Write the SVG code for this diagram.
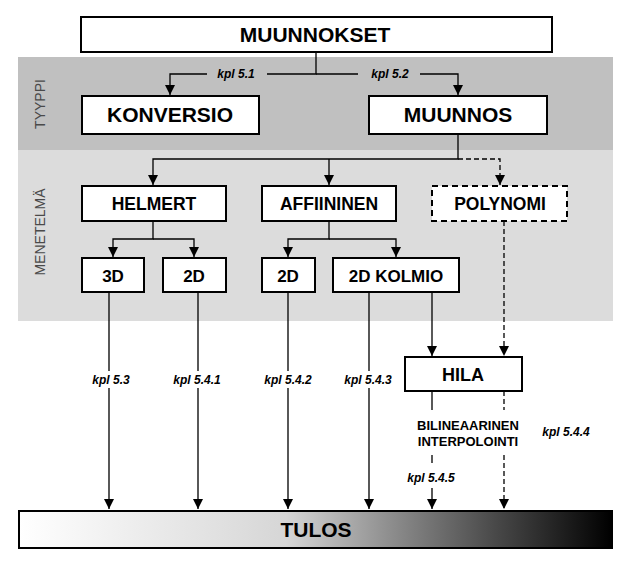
<svg xmlns="http://www.w3.org/2000/svg" width="625" height="562" viewBox="0 0 625 562">
<style>
.box{fill:#fff;stroke:#000;stroke-width:2}
.dbox{fill:#fff;stroke:#000;stroke-width:2;stroke-dasharray:6,4}
.t{font-family:"Liberation Sans",Arial,sans-serif;font-weight:bold;text-anchor:middle;fill:#000}
.k{font-family:"Liberation Sans",Arial,sans-serif;font-weight:bold;font-style:italic;font-size:12px;text-anchor:middle;fill:#000}
.side{font-family:"Liberation Sans",Arial,sans-serif;font-size:14px;text-anchor:middle;fill:#4a4a4a}
.ln{fill:none;stroke:#000;stroke-width:1.3}
.dl{fill:none;stroke:#000;stroke-width:1.3;stroke-dasharray:5,3}
</style>
<defs>
<marker id="ah" viewBox="0 0 10 10" refX="10" refY="5" markerWidth="10" markerHeight="10" markerUnits="userSpaceOnUse" orient="auto">
<path d="M0,0 L10,5 L0,10 Z" fill="#000"/>
</marker>
<linearGradient id="g" x1="0" y1="0" x2="1" y2="0">
<stop offset="0" stop-color="#ffffff"/>
<stop offset="0.45" stop-color="#d6d6d6"/>
<stop offset="0.62" stop-color="#909090"/>
<stop offset="0.8" stop-color="#4a4a4a"/>
<stop offset="1" stop-color="#000000"/>
</linearGradient>
</defs>
<rect width="625" height="562" fill="#fff"/>
<g id="bands">
<rect x="18" y="57" width="595" height="93" fill="#c0c0c0"/>
<rect x="18" y="150" width="595" height="171" fill="#dcdcdc"/>
<text class="side" transform="translate(45,104) rotate(-90)">TYYPPI</text>
<text class="side" transform="translate(45,232) rotate(-90)">MENETELMÄ</text>
</g>
<g id="connectors">
<path class="ln" d="M316,52 V74 H267 M207,74 H170 V95" marker-end="url(#ah)"/>
<path class="ln" d="M316,74 H358 M420,74 H458 V95" marker-end="url(#ah)"/>
<text class="k" x="236" y="78">kpl 5.1</text>
<text class="k" x="390" y="78">kpl 5.2</text>
<path class="ln" d="M458,134 V159 H153 V185" marker-end="url(#ah)"/>
<path class="ln" d="M329,159 V185" marker-end="url(#ah)"/>
<path class="dl" d="M458,159 H500 V185" marker-end="url(#ah)"/>
<path class="ln" d="M153,221 V239 H113 V257" marker-end="url(#ah)"/>
<path class="ln" d="M153,239 H194 V257" marker-end="url(#ah)"/>
<path class="ln" d="M329,221 V239 H288 V257" marker-end="url(#ah)"/>
<path class="ln" d="M329,239 H396 V257" marker-end="url(#ah)"/>
<path class="ln" d="M109,292 V371 M109,388 V509" marker-end="url(#ah)"/>
<path class="ln" d="M198,292 V371 M198,388 V509" marker-end="url(#ah)"/>
<path class="ln" d="M288,292 V371 M288,388 V509" marker-end="url(#ah)"/>
<path class="ln" d="M369,292 V371 M369,388 V509" marker-end="url(#ah)"/>
<text class="k" x="111" y="384">kpl 5.3</text>
<text class="k" x="197" y="384">kpl 5.4.1</text>
<text class="k" x="288" y="384">kpl 5.4.2</text>
<text class="k" x="368" y="384">kpl 5.4.3</text>
<path class="ln" d="M432,292 V356" marker-end="url(#ah)"/>
<path class="dl" d="M504,221 V356" marker-end="url(#ah)"/>
<path class="ln" d="M432,391 V410 M432,455 V463 M432,488 V509" marker-end="url(#ah)"/>
<path class="dl" d="M504,391 V410 M504,455 V509" marker-end="url(#ah)"/>
<text class="t" x="468" y="430" font-size="13">BILINEAARINEN</text>
<text class="t" x="468" y="446" font-size="13">INTERPOLOINTI</text>
<text class="k" x="431" y="482">kpl 5.4.5</text>
<text class="k" x="566" y="436">kpl 5.4.4</text>
</g>
<g id="MUUNNOKSET"><rect class="box" x="81" y="17" width="471" height="35"/><text class="t" x="315" y="42" font-size="21">MUUNNOKSET</text></g>
<g id="KONVERSIO"><rect class="box" x="82" y="96" width="177" height="38"/><text class="t" x="170" y="122" font-size="21">KONVERSIO</text></g>
<g id="MUUNNOS"><rect class="box" x="369" y="96" width="178" height="38"/><text class="t" x="458" y="122" font-size="21">MUUNNOS</text></g>
<g id="HELMERT"><rect class="box" x="82" y="186" width="144" height="35"/><text class="t" x="154" y="210" font-size="17.5">HELMERT</text></g>
<g id="AFFIININEN"><rect class="box" x="262" y="186" width="134" height="35"/><text class="t" x="329" y="210" font-size="17.5">AFFIININEN</text></g>
<g id="POLYNOMI"><rect class="dbox" x="432" y="186" width="135" height="35"/><text class="t" x="500" y="210" font-size="17.5">POLYNOMI</text></g>
<g id="H3D"><rect class="box" x="82" y="258" width="62" height="34"/><text class="t" x="113" y="281.5" font-size="17">3D</text></g>
<g id="H2D"><rect class="box" x="163" y="258" width="63" height="34"/><text class="t" x="194" y="281.5" font-size="17">2D</text></g>
<g id="A2D"><rect class="box" x="262" y="258" width="53" height="34"/><text class="t" x="288" y="281.5" font-size="17">2D</text></g>
<g id="A2DKOLMIO"><rect class="box" x="333" y="258" width="126" height="34"/><text class="t" x="396" y="281.5" font-size="17">2D KOLMIO</text></g>
<g id="HILA"><rect class="box" x="405" y="357" width="117" height="34"/><text class="t" x="463" y="381" font-size="18">HILA</text></g>
<g id="TULOS"><rect x="19" y="511" width="593" height="37" fill="url(#g)" stroke="#000" stroke-width="2"/><text class="t" x="316" y="537" font-size="21">TULOS</text></g>
</svg>
